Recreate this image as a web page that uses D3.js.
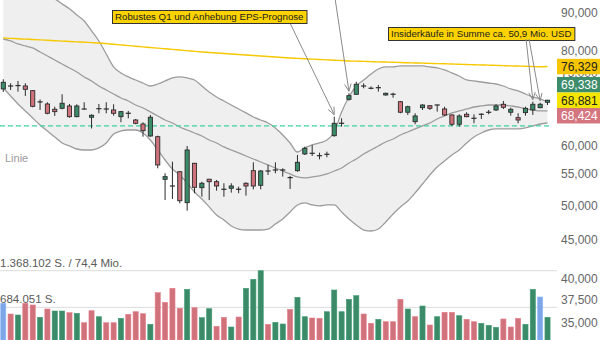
<!DOCTYPE html>
<html><head><meta charset="utf-8">
<script src="https://cdn.jsdelivr.net/npm/d3@7"></script>
<style>
body{margin:0;background:#fff}
svg{display:block;font-family:"Liberation Sans",Arial,sans-serif}
</style>
</head><body>
<svg id="chart" width="600" height="340"></svg>
<script>
// ---------- DATA (prices in USD) ----------
const open  = [71.28,71.90,72.00,71.93,70.91,68.50,68.09,67.00,67.20,67.68,65.51,67.04,65.39,67.10,67.04,66.86,65.51,66.17,64.85,64.06,61.76,61.63,54.13,53.01,55.39,50.40,56.83,52.76,54.13,53.73,52.48,52.66,52.48,53.47,55.56,53.14,55.49,55.66,55.66,54.38,55.56,58.47,58.57,58.14,58.39,61.82,64.18,69.07,70.14,71.91,71.41,71.54,69.99,70.12,68.57,66.40,64.52,67.33,67.73,67.86,67.06,65.85,64.01,65.99,65.17,65.97,66.37,66.86,68.03,66.40,65.31,66.32,66.86,67.33,68.45];
const high  = [73.42,72.53,73.04,72.53,71.06,69.04,68.45,67.53,70.14,68.09,68.03,68.45,65.99,68.09,68.45,68.03,66.66,66.66,65.05,64.40,65.85,61.82,55.13,57.11,55.50,59.91,56.90,53.73,54.20,54.01,53.47,53.47,52.92,53.63,57.00,55.68,56.54,57.00,55.97,54.68,58.29,59.79,60.09,58.70,58.88,65.51,65.19,70.35,72.88,72.53,71.85,72.15,70.48,70.48,68.72,67.73,66.19,68.03,67.88,67.95,67.53,65.99,65.99,66.39,65.99,66.19,66.86,68.03,68.72,67.33,66.19,67.53,68.57,68.36,68.95];
const low   = [70.63,71.06,70.70,69.78,67.41,66.86,65.99,65.65,67.00,65.31,65.39,66.96,63.19,66.19,66.19,65.71,64.40,65.19,64.00,61.63,61.63,55.97,50.81,50.97,50.31,49.18,51.87,51.33,50.81,52.28,51.33,51.97,51.87,51.49,52.50,52.50,54.84,55.13,54.56,52.55,55.39,58.29,58.11,57.52,57.88,61.63,63.55,68.79,69.99,71.43,71.21,70.70,69.84,69.41,66.19,65.85,64.01,66.86,66.86,66.52,65.65,63.68,63.55,65.39,64.20,65.05,65.99,66.66,67.06,65.71,64.20,65.71,65.85,67.20,67.88];
const close = [72.75,71.95,72.05,71.21,67.61,68.55,66.19,66.52,68.24,65.51,67.68,67.06,65.79,67.14,67.08,66.19,66.52,66.21,64.20,62.77,65.39,56.54,54.56,53.05,50.70,59.18,52.82,53.47,53.73,53.03,52.52,53.03,52.52,53.03,53.03,55.51,55.53,55.70,55.70,54.42,57.00,59.49,58.61,58.18,58.43,64.20,64.22,69.84,72.31,71.95,71.45,71.58,70.35,70.16,66.40,67.53,65.65,67.88,67.20,67.90,65.85,64.01,65.65,65.51,65.21,66.01,66.41,67.68,67.41,67.00,64.85,67.20,68.03,68.03,68.881];
const volume = [759600,559900,541300,759600,727900,498300,653200,615900,615900,584200,573000,397500,621500,509500,397500,397500,479700,554300,602800,565500,367700,957500,778300,1039600,666300,1020900,677500,490900,658800,330400,498300,317300,503900,1039600,1207600,1368102,367700,405000,373300,647600,871600,509500,485300,479700,602800,1007900,602800,834300,901500,559900,386300,461000,416200,416200,834300,653200,509500,709200,354600,509500,591600,591600,528200,461000,416200,386300,349000,311700,466600,317300,479700,367700,1020900,877200,498300];
const volumeKind = ["b","r","g","r","r","g","r","g","g","r","g","r","r","g","r","r","g","r","r","r","g","r","r","r","r","g","r","g","g","r","r","g","r","g","g","g","r","g","g","r","g","g","r","r","g","g","g","g","g","r","r","g","r","r","r","g","r","g","r","g","r","r","g","r","r","g","g","g","r","r","r","g","g","b","g"];
const bbUpper = [104.0,102.4,100.6,98.8,97.3,95.8,94.6,93.8,92.4,91.0,89.3,87.7,85.1,82.5,79.3,76.23,74.85,73.94,73.26,72.59,71.93,72.37,73.04,73.71,73.94,73.71,73.26,71.93,70.63,69.56,68.72,67.88,67.06,66.26,65.45,64.85,64.26,63.29,61.95,60.46,58.82,59.55,60.09,60.46,61.01,62.52,66.46,69.56,71.93,73.26,74.62,75.76,76.23,76.23,76.46,76.46,76.46,76.46,76.23,76.00,75.53,74.85,74.16,73.26,73.04,72.81,72.59,72.37,71.93,71.28,70.85,70.20,69.56,69.14,68.51];
const bbMiddle = [83.01,82.51,81.76,81.27,80.77,79.79,78.82,77.87,76.92,75.99,75.07,73.94,73.04,71.93,71.06,70.20,69.35,68.72,67.88,67.27,66.46,65.65,64.85,64.26,63.48,62.90,62.33,61.76,61.01,60.46,59.73,59.18,58.65,58.11,57.58,57.05,56.54,56.02,55.51,55.01,54.51,54.35,54.51,54.68,55.01,55.51,56.02,56.88,57.58,58.47,59.18,59.91,60.64,61.20,61.95,62.52,63.10,63.68,64.26,65.05,65.65,66.26,66.66,67.06,67.47,67.68,67.88,67.88,67.88,67.68,67.47,67.06,66.86,66.66,66.66];
const bbLower = [71.50,69.78,68.09,66.66,65.25,63.87,62.71,61.57,60.46,59.91,59.36,59.18,59.18,59.55,60.46,62.14,62.71,62.90,62.90,62.33,61.01,59.18,57.40,55.85,54.84,53.52,52.07,50.97,49.75,48.54,47.81,46.95,46.51,46.37,46.37,46.37,46.51,47.23,47.96,48.99,50.05,50.36,50.05,49.90,50.05,50.05,48.99,47.96,47.09,46.37,46.23,46.51,47.52,48.69,49.75,50.66,51.92,53.35,54.84,56.20,57.23,58.29,59.18,60.46,61.57,62.33,62.90,63.10,63.10,63.10,63.10,63.29,63.68,64.06,64.26];
const sma200 = [83.27,83.17,83.07,82.97,82.89,82.79,82.69,82.58,82.48,82.38,82.28,82.21,82.11,82.01,81.86,81.69,81.53,81.36,81.21,81.04,80.89,80.72,80.57,80.43,80.26,80.11,79.94,79.79,79.67,79.55,79.43,79.30,79.18,79.06,78.94,78.82,78.70,78.58,78.46,78.34,78.25,78.15,78.08,77.99,77.89,77.80,77.73,77.63,77.59,77.54,77.47,77.42,77.38,77.33,77.26,77.21,77.17,77.12,77.07,77.00,76.96,76.91,76.86,76.79,76.74,76.69,76.65,76.60,76.53,76.48,76.44,76.39,76.32,76.28,76.329];
const priceTicks = [35,37.5,40,45,50,55,60,75,80,90];
const supportLevel = 63.68;
const quoteValues = [76.329,69.338,68.881,68.424];
const quoteKinds  = ["sma","high","last","low"];
const volumeTicks = [684051,1368102];
const volumeTickLabels = ["684.051 S.","1.368.102 S. / 74,4 Mio."];
const annotationTexts = ["Robustes Q1 und Anhebung EPS-Prognose","","Insiderkäufe in Summe ca. 50,9 Mio. USD"];
const annotationTargets = [[45],[47],[72,73]];

// ---------- LAYOUT ----------
const W = 600, H = 340, plotRight = 557;
const svg = d3.select("#chart");
const de = d3.formatLocale({decimal:",",thousands:".",grouping:[3],currency:["","$"]});
const fmt = de.format(",.3f");

const n = close.length;
const x = d3.scaleBand().domain(d3.range(n)).range([-0.4, 551.2]).paddingInner(0.3).paddingOuter(0.15);
const cx = i => x(i) + x.bandwidth()/2;
const y = d3.scaleLog().domain([33.16, 93.49]).range([H, 0]);
const yv = d3.scaleLinear().domain([0, 1368102]).range([344, 270.7]);

const defs = svg.append("defs");
defs.append("clipPath").attr("id","pclip").append("rect").attr("x",0).attr("y",0).attr("width",plotRight).attr("height",262);

const C = {g:"#3b8b69", r:"#d0727c", b:"#7ea6e6", dark:"#2b2b2b"};

// Bollinger band
const pg = svg.append("g").attr("clip-path","url(#pclip)");
const idx = d3.range(n);
pg.append("path").datum(idx)
  .attr("d", d3.area().x(cx).y0(i=>y(bbLower[i])).y1(i=>y(bbUpper[i])).curve(d3.curveMonotoneX))
  .attr("fill","#efefef");
[bbUpper,bbLower,bbMiddle].forEach(arr=>{
  pg.append("path").datum(idx)
    .attr("d", d3.line().x(cx).y(i=>y(arr[i])).curve(d3.curveMonotoneX))
    .attr("fill","none").attr("stroke","#9c9c9c").attr("stroke-width",1.3);
});
// SMA 200
pg.append("path").datum(idx)
  .attr("d", d3.line().x(cx).y(i=>y(sma200[i])).curve(d3.curveMonotoneX))
  .attr("fill","none").attr("stroke","#f6c800").attr("stroke-width",1.4);
// support line
svg.append("line").attr("x1",0).attr("x2",550).attr("y1",y(supportLevel)).attr("y2",y(supportLevel))
  .attr("stroke","#3fd2a4").attr("stroke-width",1.2).attr("stroke-dasharray","5,3");

svg.append("text").attr("x",5).attr("y",162).attr("font-size",11).attr("fill","#9a9a9a").text("Linie");

// candles
const cg = svg.append("g");
idx.forEach(i=>{
  const o=open[i], c=close[i];
  cg.append("line").attr("x1",cx(i)).attr("x2",cx(i)).attr("y1",y(high[i])).attr("y2",y(low[i]))
    .attr("stroke",C.dark).attr("stroke-width",1);
  const top = y(Math.max(o,c)), bot = y(Math.min(o,c));
  if (bot - top < 1.2) {
    cg.append("line").attr("x1",x(i)).attr("x2",x(i)+x.bandwidth()).attr("y1",(top+bot)/2).attr("y2",(top+bot)/2)
      .attr("stroke",C.dark).attr("stroke-width",1.2);
  } else {
    cg.append("rect").attr("x",x(i)+0.5).attr("y",top).attr("width",x.bandwidth()-1).attr("height",bot-top)
      .attr("fill", c>o ? C.g : C.r).attr("stroke",C.dark).attr("stroke-width",0.9);
  }
});

// volume
svg.append("g").selectAll("line").data(volumeTicks).join("line")
  .attr("x1",0).attr("x2",plotRight).attr("y1",d=>yv(d)).attr("y2",d=>yv(d))
  .attr("stroke","#dcdcdc").attr("stroke-width",1);
svg.append("g").selectAll("rect").data(idx).join("rect")
  .attr("x",i=>x(i)).attr("width",x.bandwidth()).attr("y",i=>yv(volume[i])).attr("height",i=>H-yv(volume[i]))
  .attr("fill",i=>C[volumeKind[i]]).attr("stroke",i=>d3.color(C[volumeKind[i]]).brighter(0.3)).attr("stroke-width",0.6);
svg.append("g").selectAll("text").data(volumeTicks).join("text")
  .attr("x",0).attr("y",(d,i)=>yv(d)-4).attr("font-size",11.5).attr("fill","#5a5a5a")
  .text((d,i)=>volumeTickLabels[i]);

// price axis
const ax = svg.append("g").attr("transform",`translate(${plotRight+4},0)`)
  .call(d3.axisRight(y).tickValues(priceTicks).tickFormat(fmt).tickSize(0).tickPadding(0));
ax.select(".domain").remove();
ax.selectAll("text").attr("font-size",12).attr("fill","#666").attr("font-family","Liberation Sans, Arial, sans-serif");

// quote labels with collision spreading
const boxH = 15.5;
let items = quoteValues.map((v,i)=>({v, kind:quoteKinds[i], y0:y(v), y:y(v)}));
items.sort((a,b)=>a.y0-b.y0);
let groups = items.map(it=>[it]);
let changed = true;
while(changed){
  changed=false;
  groups.forEach(g=>{const m=d3.mean(g,d=>d.y0); g.forEach((d,k)=>d.y=m+(k-(g.length-1)/2)*boxH);});
  for(let k=1;k<groups.length;k++){
    const a=groups[k-1], b=groups[k];
    if(b[0].y - a[a.length-1].y < boxH){ groups.splice(k-1,2,a.concat(b)); changed=true; break; }
  }
}
groups.forEach(g=>{const m=d3.mean(g,d=>d.y0); g.forEach((d,k)=>d.y=m+(k-(g.length-1)/2)*boxH);});
const QC = {sma:["#f7c600","#222"], high:["#3d8c6b","#fff"], last:["#f4e600","#222"], low:["#d4757f","#fff"]};
const qg = svg.append("g");
items.forEach(it=>{
  qg.append("rect").attr("x",plotRight).attr("y",it.y-boxH/2).attr("width",W-plotRight).attr("height",boxH)
    .attr("fill",QC[it.kind][0]);
  qg.append("text").attr("x",plotRight+4).attr("y",it.y+4.3).attr("font-size",12).attr("fill",QC[it.kind][1]).text(fmt(it.v));
});

// annotations
const annLayout = [{bx:112,by:10,sx:290,sy:23},{bx:null,sx:335,sy:-2},{bx:388,by:27,sx:526,sy:39}];
const ag = svg.append("g");
function arrow(sx,sy,tx,ty){
  ag.append("line").attr("x1",sx).attr("y1",sy).attr("x2",tx).attr("y2",ty).attr("stroke","#8a8a8a").attr("stroke-width",1);
  const a = Math.atan2(ty-sy, tx-sx), L=8, s=0.42;
  [a+Math.PI-s, a+Math.PI+s].forEach(b=>{
    ag.append("line").attr("x1",tx).attr("y1",ty).attr("x2",tx+L*Math.cos(b)).attr("y2",ty+L*Math.sin(b))
      .attr("stroke","#8a8a8a").attr("stroke-width",1);
  });
}
annotationTexts.forEach((t,k)=>{
  const L = annLayout[k];
  annotationTargets[k].forEach((ti,j)=>{
    arrow(L.sx + j*3, L.sy, cx(ti), y(high[ti]) - 2);
  });
  if(t){
    const tx = ag.append("text").attr("x",L.bx+3).attr("y",L.by+10).attr("font-size",9.7).attr("fill","#222").text(t);
    const w = tx.node().getComputedTextLength();
    ag.insert("rect","text").attr("x",L.bx+0.5).attr("y",L.by+0.5).attr("width",w+6).attr("height",13)
      .attr("fill","#fcd300").attr("stroke","#333").attr("stroke-width",1);
  }
});
</script>
</body></html>
